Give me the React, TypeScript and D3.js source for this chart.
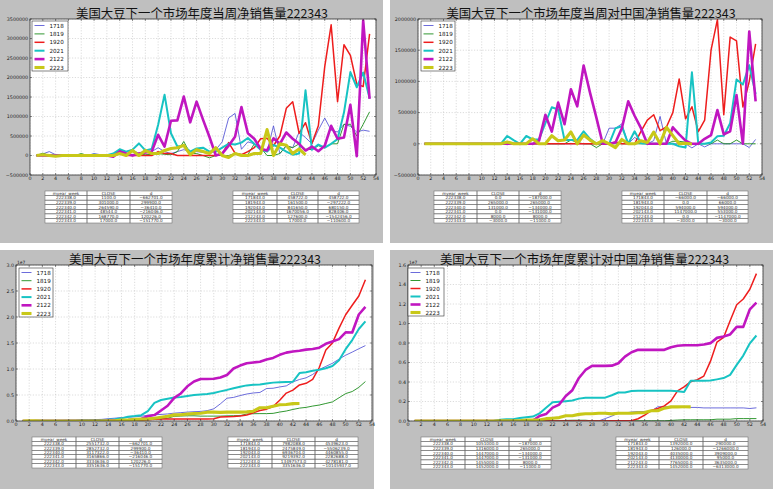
import React from 'react';
import * as d3 from 'd3';

// ---------- categories ----------
const SERIES = ['1718', '1819', '1920', '2021', '2122', '2223'];
const X_TICKS = d3.range(0, 55, 2);

// ---------- panel 1: weekly net sales (total) ----------
const W_1718 = [0,40000,100000,20000,0,0,10000,20000,0,50000, 20000,10000,40000,130000,100000,130000,60000,80000,100000,200000, 100000,50000,100000,150000,100000,100000,80000,50000,150000,350000, 960000,1080000,160000,350000,300000,200000,100000,760000,50000,250000, 200000,600000,458722,300000,650000,960000,650000,600000,800000,750000, 600000,650000,620000];
const W_1819 = [0,60000,0,0,0,0,0,50000,0,20000, 0,10000,20000,30000,50000,20000,30000,20000,30000,50000, 30000,20000,100000,360000,50000,50000,0,-60000,0,0, 0,50000,30000,20000,300000,200000,0,0,50000,250000, 200000,300000,161500,150000,250000,200000,300000,300000,800000,800000, 500000,800000,1120000];
const W_1920 = [0,0,0,0,0,0,0,0,0,0, 0,0,0,130000,0,0,0,0,0,100000, 50000,50000,0,0,0,0,0,0,0,50000, 330000,60000,20000,100000,200000,430000,440000,250000,500000,1210000, 1380000,570000,841650,310000,760000,2280000,3350000,1380000,2840000,2570000, 1830000,1770000,3120000];
const W_2021 = [0,20000,0,0,0,0,0,0,0,20000, 0,10000,50000,160000,100000,150000,310000,130000,170000,790000, 1560000,570000,230000,250000,100000,180000,200000,100000,100000,200000, 300000,280000,330000,450000,300000,150000,100000,270000,200000,100000, 20000,50000,1670056,150000,280000,200000,300000,420000,1100000,2140000, 1750000,2130000,1470000];
const W_2122 = [0,0,0,0,0,0,0,0,0,0, 0,0,-30000,100000,50000,0,50000,80000,100000,530000, 230000,890000,900000,1510000,850000,1380000,920000,480000,0,50000, 250000,480000,1240000,570000,430000,170000,130000,440000,300000,590000, 430000,300000,127600,230000,110000,250000,760000,430000,460000,1300000, -20000,3460000,1450000];
const W_2223 = [0,20000,0,-20000,0,0,0,0,0,0, 0,0,0,50000,0,130000,0,130000,50000,50000, 130000,180000,200000,260000,20000,150000,100000,50000,200000,0, -50000,50000,0,0,50000,50000,663801,1100,301000,264590, 48544,168770,17000];

// ---------- panel 2: weekly net sales to China ----------
const C_1718 = [0,0,0,0,0,0,0,0,0,0, 0,0,0,0,0,0,0,0,0,0, 0,0,0,0,0,0,0,0,0,250000, 250000,320000,0,100000,50000,0,50000,440000,0,0, 0,0,-66000,0,-50000,0,0,0,0,0, 0,-60000,70000];
const C_1819 = [0,0,0,0,0,0,0,0,0,0, 0,0,0,0,0,0,0,0,0,0, 0,0,0,60000,20000,0,0,-60000,0,0, 0,0,0,0,0,0,0,0,0,40000, 40000,26000,0,0,0,0,60000,0,0,60000, 0,0,0];
const C_1920 = [0,0,0,0,0,0,0,0,0,0, 0,0,0,0,0,0,0,0,0,0, 0,0,0,0,0,0,0,0,0,0, 30000,0,0,0,200000,380000,465000,210000,270000,500000, 1040000,400000,594000,195000,380000,1500000,1990000,465000,1710000,1650000, 590000,1000000,1600000];
const C_2021 = [0,0,0,0,0,0,0,0,0,0, 0,0,0,125000,60000,0,125000,70000,70000,330000, 585000,550000,60000,60000,60000,200000,80000,0,20000,0, 250000,280000,0,200000,10000,0,0,0,0,0, -40000,-60000,1147000,0,0,20000,120000,130000,330000,1030000, 950000,1260000,800000];
const C_2122 = [0,0,0,0,0,0,0,0,0,0, 0,0,0,0,0,0,0,0,50000,465000, 195000,660000,315000,875000,600000,1255000,820000,420000,0,0, 20000,250000,680000,450000,250000,0,0,0,0,265000, 150000,50000,0,0,80000,140000,540000,150000,200000,780000, 0,1800000,680000];
const C_2223 = [0,0,0,0,0,0,0,0,0,0, 0,0,0,30000,0,0,0,80000,0,0, 130000,50000,60000,190000,0,140000,60000,0,50000,0, -60000,70000,0,0,50000,20000,187000,0,265000,131000, 0,8000,-3000];

// ---------- panel 3: cumulative net sales (total) ----------
const S_1718 = [0,40000,140000,160000,160000,160000,170000,190000,190000,240000, 260000,270000,310000,440000,540000,670000,730000,810000,910000,1110000, 1210000,1260000,1360000,1510000,1610000,1710000,1790000,1840000,1990000,2340000, 3300000,4380000,4540000,4890000,5190000,5390000,5490000,6250000,6300000,6550000, 6750000,7520000,7982088,8300000,8950000,9900000,10500000,11100000,11900000,12650000, 13250000,13900000,14500000];
const S_1819 = [0,60000,60000,60000,60000,60000,60000,110000,110000,130000, 130000,140000,160000,190000,240000,260000,290000,310000,340000,390000, 420000,440000,540000,900000,950000,1000000,1000000,940000,940000,940000, 940000,990000,1020000,1040000,1340000,1400000,1420000,1420000,1470000,1720000, 1920000,2220000,2475849,2620000,2870000,3070000,3370000,3670000,4470000,5270000, 5670000,6470000,7590000];
const S_1920 = [0,0,0,0,0,0,0,0,0,0, 0,0,0,130000,130000,130000,130000,130000,130000,250000, 350000,400000,400000,400000,400000,400000,400000,400000,400000,450000, 780000,840000,860000,960000,1160000,1590000,2030000,2280000,2780000,3990000, 5370000,5940000,6936704,7250000,8010000,10290000,13640000,15020000,17860000,20430000, 22260000,24030000,27150000];
const S_2021 = [0,20000,20000,20000,20000,20000,20000,20000,20000,40000, 40000,50000,100000,260000,360000,510000,820000,950000,1120000,1910000, 3470000,4040000,4270000,4520000,4620000,4800000,5000000,5100000,5200000,5400000, 5700000,5980000,6310000,6600000,6850000,6950000,7000000,7200000,7380000,7470000, 7500000,7549336,9219392,9370000,9650000,9850000,10150000,10570000,11670000,13810000, 15560000,17690000,19160000];
const S_2122 = [0,0,0,0,0,0,0,0,0,0, 0,0,0,100000,150000,150000,200000,280000,380000,910000, 1140000,2030000,2930000,4440000,5290000,6670000,7590000,8070000,8070000,8120000, 8370000,8850000,10090000,10660000,11090000,11260000,11390000,11830000,12130000,12720000, 13150000,13370000,13497573,13730000,13840000,14090000,14850000,15280000,15740000,17040000, 17020000,20480000,21930000];
const S_2223 = [0,20000,20000,0,0,0,0,0,0,0, 0,0,0,50000,50000,180000,180000,310000,360000,410000, 540000,720000,920000,1180000,1200000,1350000,1450000,1500000,1700000,1700000, 1650000,1700000,1700000,1700000,1750000,1886831,2550632,2551732,2852732,3117322, 3165866,3334636,3351636];

// ---------- panel 4: cumulative net sales to China ----------
const T_1718 = [0,0,0,0,0,0,0,0,0,0, 0,0,0,0,0,0,0,0,0,0, 0,0,0,0,0,0,0,0,0,250000, 500000,820000,820000,920000,970000,970000,1020000,1460000,1460000,1460000, 1460000,1458000,1392000,1392000,1342000,1342000,1342000,1342000,1342000,1342000, 1342000,1282000,1352000];
const T_1819 = [0,0,0,0,0,0,0,0,0,0, 0,0,0,0,0,0,0,0,0,0, 0,0,0,60000,80000,80000,80000,20000,20000,20000, 20000,20000,20000,20000,20000,20000,20000,20000,20000,60000, 100000,126000,126000,126000,126000,126000,186000,186000,186000,246000, 246000,246000,246000];
const T_1920 = [0,0,0,0,0,0,0,0,0,0, 0,0,0,0,0,0,0,0,0,0, 0,0,0,0,0,0,0,0,0,0, 30000,30000,30000,30000,230000,610000,1075000,1285000,1555000,2055000, 3095000,3495000,4035000,4230000,4610000,6110000,8100000,8565000,10275000,11925000, 12515000,13515000,15115000];
const T_2021 = [0,0,0,0,0,0,0,0,0,0, 0,0,0,125000,185000,185000,310000,380000,450000,780000, 1365000,1915000,1975000,2035000,2095000,2295000,2375000,2375000,2395000,2395000, 2645000,2925000,2925000,3080000,3090000,3090000,3090000,3090000,3090000,3090000, 3050000,2983000,4130000,4130000,4130000,4150000,4270000,4400000,4730000,5760000, 6710000,7970000,8770000];
const T_2122 = [0,0,0,0,0,0,0,0,0,0, 0,0,0,0,0,0,0,0,50000,515000, 710000,1370000,1685000,2560000,3160000,4415000,5235000,5655000,5655000,5655000, 5675000,5925000,6605000,7050000,7300000,7300000,7300000,7300000,7300000,7565000, 7715000,7765000,7765000,7765000,7845000,7985000,8525000,8675000,8875000,9655000, 9655000,11455000,12135000];
const T_2223 = [0,0,0,0,0,0,0,0,0,0, 0,0,0,30000,30000,30000,30000,110000,110000,110000, 240000,290000,350000,540000,540000,680000,740000,740000,790000,790000, 730000,800000,800000,800000,844000,864000,1051000,1051000,1316000,1447000, 1447000,1455000,1452000];

// ---------- titles ----------
const TITLES = [
  '美国大豆下一个市场年度当周净销售量222343',
  '美国大豆下一个市场年度当周对中国净销售量222343',
  '美国大豆下一个市场年度累计净销售量222343',
  '美国大豆下一个市场年度累计对中国净销售量222343',
];

// ---------- tables ----------
const TABLE_HEAD = ['myear_week', 'CLOSE', 'd'];
const WEEK_KEYS = ['222338.0', '222339.0', '222340.0', '222341.0', '222342.0', '222343.0'];
const YEAR_KEYS = ['171843.0', '181943.0', '192043.0', '202143.0', '212243.0', '222343.0'];

const T1A_CLOSE = ['1100.0', '301000.0', '264590.0', '48544.0', '168770.0', '17000.0'];
const T1A_D = ['-662701.0', '299900.0', '-36410.0', '-216046.0', '120226.0', '-151770.0'];
const T1B_CLOSE = ['458722.0', '161500.0', '841650.0', '1670056.0', '127600.0', '17000.0'];
const T1B_D = ['458722.0', '-297222.0', '680150.0', '828406.0', '-1542456.0', '-110600.0'];

const T2A_CLOSE = ['0.0', '265000.0', '131000.0', '0.0', '8000.0', '-3000.0'];
const T2A_D = ['-187000.0', '265000.0', '-134000.0', '-131000.0', '8000.0', '-11000.0'];
const T2B_CLOSE = ['-66000.0', '0.0', '594000.0', '1147000.0', '0.0', '-3000.0'];
const T2B_D = ['-66000.0', '66000.0', '594000.0', '553000.0', '-1147000.0', '-3000.0'];

const T3A_CLOSE = ['2551732.0', '2852732.0', '3117322.0', '3165866.0', '3334636.0', '3351636.0'];
const T3A_D = ['-662701.0', '299900.0', '-36410.0', '-216046.0', '120226.0', '-151770.0'];
const T3B_CLOSE = ['7982088.0', '2475849.0', '6936704.0', '9219392.0', '13497573.0', '3351636.0'];
const T3B_D = ['4539623.0', '-5506239.0', '4460855.0', '2282688.0', '4278181.0', '-10145937.0'];

const T4A_CLOSE = ['1051000.0', '1316000.0', '1447000.0', '1447000.0', '1455000.0', '1452000.0'];
const T4A_D = ['-187000.0', '265000.0', '-134000.0', '-131000.0', '8000.0', '-11000.0'];
const T4B_CLOSE = ['1392000.0', '126000.0', '4035000.0', '4130000.0', '7765000.0', '1452000.0'];
const T4B_D = ['290000.0', '-1266000.0', '3909000.0', '95000.0', '3635000.0', '-6313000.0'];

// ---------- styles ----------
const COLORS = ['#4646d2', '#1b8c1b', '#ee1d1d', '#17c3c3', '#c016c0', '#c8c818'];
const WIDTHS = [0.8, 0.9, 1.5, 2.0, 2.6, 3.1];
const FIG_BG = '#bfbfbf';
const TICK_FONT = '"DejaVu Sans", sans-serif';
const TITLE_FONT = '"Noto Sans CJK SC", sans-serif';

const minus = (s: string) => s.replace('-', '\u2212');

type Table = { cols: number[]; y: number; y2: number; keys: string[]; close: string[]; d: string[] };
type PanelCfg = {
  id: string;
  bg: [number, number, number, number];
  ax: [number, number, number, number]; // l, t, r, b
  dom: [number, number];
  ticks: number[];
  fmt: (v: number) => string;
  offset?: string;
  title: string;
  tx: number;
  ty: number;
  lg: [number, number, number, number];
  data: number[][];
  tables: Table[];
};

const fmtInt = (v: number) => minus(d3.format('d')(v));
const fmtE7_1 = (v: number) => (v / 1e7).toFixed(1);

const PANELS: PanelCfg[] = [
  {
    id: 'p1', bg: [0, 0, 383, 243], ax: [30, 19, 376, 175],
    dom: [-500000, 3500000], ticks: d3.range(-500000, 3500001, 500000), fmt: fmtInt,
    title: TITLES[0], tx: 202, ty: 18, lg: [32, 21, 36, 50],
    data: [W_1718, W_1819, W_1920, W_2021, W_2122, W_2223],
    tables: [
      { cols: [45, 87, 130, 172], y: 191, y2: 223, keys: WEEK_KEYS, close: T1A_CLOSE, d: T1A_D },
      { cols: [233, 277, 318, 359], y: 191, y2: 223, keys: YEAR_KEYS, close: T1B_CLOSE, d: T1B_D },
    ],
  },
  {
    id: 'p2', bg: [390, 0, 383, 243], ax: [418, 19, 762, 175],
    dom: [-500000, 2000000], ticks: d3.range(-500000, 2000001, 500000), fmt: fmtInt,
    title: TITLES[1], tx: 591, ty: 18, lg: [421, 21, 34, 50],
    data: [C_1718, C_1819, C_1920, C_2021, C_2122, C_2223],
    tables: [
      { cols: [434, 477, 519, 561], y: 191, y2: 223, keys: WEEK_KEYS, close: T2A_CLOSE, d: T2A_D },
      { cols: [622, 664, 707, 748], y: 191, y2: 223, keys: YEAR_KEYS, close: T2B_CLOSE, d: T2B_D },
    ],
  },
  {
    id: 'p3', bg: [0, 250, 374, 239], ax: [16, 265, 372, 421],
    dom: [0, 30000000], ticks: d3.range(0, 30000001, 5000000), fmt: fmtE7_1, offset: '1e7',
    title: TITLES[2], tx: 195, ty: 264, lg: [19, 268, 34, 49],
    data: [S_1718, S_1819, S_1920, S_2021, S_2122, S_2223],
    tables: [
      { cols: [32, 76, 119, 162], y: 437, y2: 468, keys: WEEK_KEYS, close: T3A_CLOSE, d: T3A_D },
      { cols: [228, 272, 315, 358], y: 437, y2: 468, keys: YEAR_KEYS, close: T3B_CLOSE, d: T3B_D },
    ],
  },
  {
    id: 'p4', bg: [390, 250, 383, 239], ax: [408, 265, 763, 421],
    dom: [0, 16000000], ticks: d3.range(0, 16000001, 2000000), fmt: fmtE7_1, offset: '1e7',
    title: TITLES[3], tx: 584.5, ty: 264, lg: [408, 268, 36, 48],
    data: [T_1718, T_1819, T_1920, T_2021, T_2122, T_2223],
    tables: [
      { cols: [421, 465, 509, 551], y: 437, y2: 469, keys: WEEK_KEYS, close: T4A_CLOSE, d: T4A_D },
      { cols: [616, 659, 703, 748], y: 437, y2: 469, keys: YEAR_KEYS, close: T4B_CLOSE, d: T4B_D },
    ],
  },
];

function TableView({ t }: { t: Table }) {
  const rows = [TABLE_HEAD, ...t.keys.map((k, i) => [k, minus(t.close[i]), minus(t.d[i])])];
  const rh = (t.y2 - t.y) / rows.length;
  return (
    <g>
      <rect x={t.cols[0]} y={t.y} width={t.cols[3] - t.cols[0]} height={t.y2 - t.y} fill="#fff" />
      {rows.map((r, ri) =>
        r.map((c, ci) => (
          <g key={ri + '-' + ci}>
            <rect x={t.cols[ci]} y={t.y + ri * rh} width={t.cols[ci + 1] - t.cols[ci]} height={rh}
              fill="none" stroke="#6e6e6e" strokeWidth={0.55} />
            <text x={(t.cols[ci] + t.cols[ci + 1]) / 2} y={t.y + ri * rh + rh / 2 + 1.5}
              fontSize={4.2} fontFamily={TICK_FONT} textAnchor="middle" fill="#333">{c}</text>
          </g>
        ))
      )}
    </g>
  );
}

function Panel({ p }: { p: PanelCfg }) {
  const [l, t, r, b] = p.ax;
  const x = d3.scaleLinear().domain([0, 54]).range([l, r]);
  const y = d3.scaleLinear().domain(p.dom).range([b, t]);
  const line = d3.line<number>().x((_, i) => x(i + 1)).y((v) => y(v));
  const [lx, ly, lw, lh] = p.lg;
  const rowStep = (lh - 8) / 5;
  return (
    <g>
      <rect x={p.bg[0]} y={p.bg[1]} width={p.bg[2]} height={p.bg[3]} fill={FIG_BG} />
      <clipPath id={'clip-' + p.id}>
        <rect x={l} y={t} width={r - l} height={b - t} />
      </clipPath>
      <rect x={l} y={t} width={r - l} height={b - t} fill="#fff" />
      {/* grid */}
      {X_TICKS.map((v) => (
        <line key={'gx' + v} x1={x(v)} x2={x(v)} y1={t} y2={b} stroke="#b8b8b8" strokeWidth={0.5} strokeDasharray="1.2,1.6" />
      ))}
      {p.ticks.map((v) => (
        <line key={'gy' + v} x1={l} x2={r} y1={y(v)} y2={y(v)} stroke="#b8b8b8" strokeWidth={0.5} strokeDasharray="1.2,1.6" />
      ))}
      {/* series */}
      <g clipPath={`url(#clip-${p.id})`}>
        {p.data.map((s, i) => (
          <path key={SERIES[i]} d={line(s) || ''} fill="none" stroke={COLORS[i]} strokeWidth={WIDTHS[i]}
            strokeLinejoin="round" strokeLinecap="butt" />
        ))}
      </g>
      {/* ticks */}
      {X_TICKS.map((v) => (
        <g key={'tx' + v}>
          <line x1={x(v)} x2={x(v)} y1={b} y2={b - 2} stroke="#222" strokeWidth={0.5} />
          <line x1={x(v)} x2={x(v)} y1={t} y2={t + 2} stroke="#222" strokeWidth={0.5} />
          <text x={x(v)} y={b + 5.4} fontSize={4.8} fontFamily={TICK_FONT} textAnchor="middle" fill="#222">{v}</text>
        </g>
      ))}
      {p.ticks.map((v) => (
        <g key={'ty' + v}>
          <line x1={l} x2={l + 2} y1={y(v)} y2={y(v)} stroke="#222" strokeWidth={0.5} />
          <line x1={r} x2={r - 2} y1={y(v)} y2={y(v)} stroke="#222" strokeWidth={0.5} />
          <text x={l - 1.8} y={y(v) + 1.7} fontSize={4.8} fontFamily={TICK_FONT} textAnchor="end" fill="#222">{p.fmt(v)}</text>
        </g>
      ))}
      {p.offset && (
        <text x={l + 1} y={t - 1.5} fontSize={4.4} fontFamily={TICK_FONT} fill="#222">{p.offset}</text>
      )}
      <rect x={l} y={t} width={r - l} height={b - t} fill="none" stroke="#333" strokeWidth={0.8} />
      {/* legend */}
      <rect x={lx} y={ly} width={lw} height={lh} fill="#fff" stroke="#333" strokeWidth={0.6} />
      {SERIES.map((s, i) => {
        const cy = ly + 4.5 + i * rowStep;
        return (
          <g key={'lg' + s}>
            <line x1={lx + 2.5} x2={lx + 12.5} y1={cy} y2={cy} stroke={COLORS[i]} strokeWidth={WIDTHS[i]} />
            <text x={lx + 17.5} y={cy + 2} fontSize={5.6} fontFamily={TICK_FONT} fill="#111">{s}</text>
          </g>
        );
      })}
      {/* title */}
      <text x={p.tx} y={p.ty} fontSize={12.4} fontFamily={TITLE_FONT} textAnchor="middle" fill="#111">{p.title}</text>
      {p.tables.map((tb, i) => <TableView key={i} t={tb} />)}
    </g>
  );
}

export default function App() {
  return (
    <svg width={773} height={489} style={{ position: 'absolute', left: 0, top: 0 }}>
      <rect x={0} y={0} width={773} height={489} fill="#fff" />
      {PANELS.map((p) => <Panel key={p.id} p={p} />)}
    </svg>
  );
}
